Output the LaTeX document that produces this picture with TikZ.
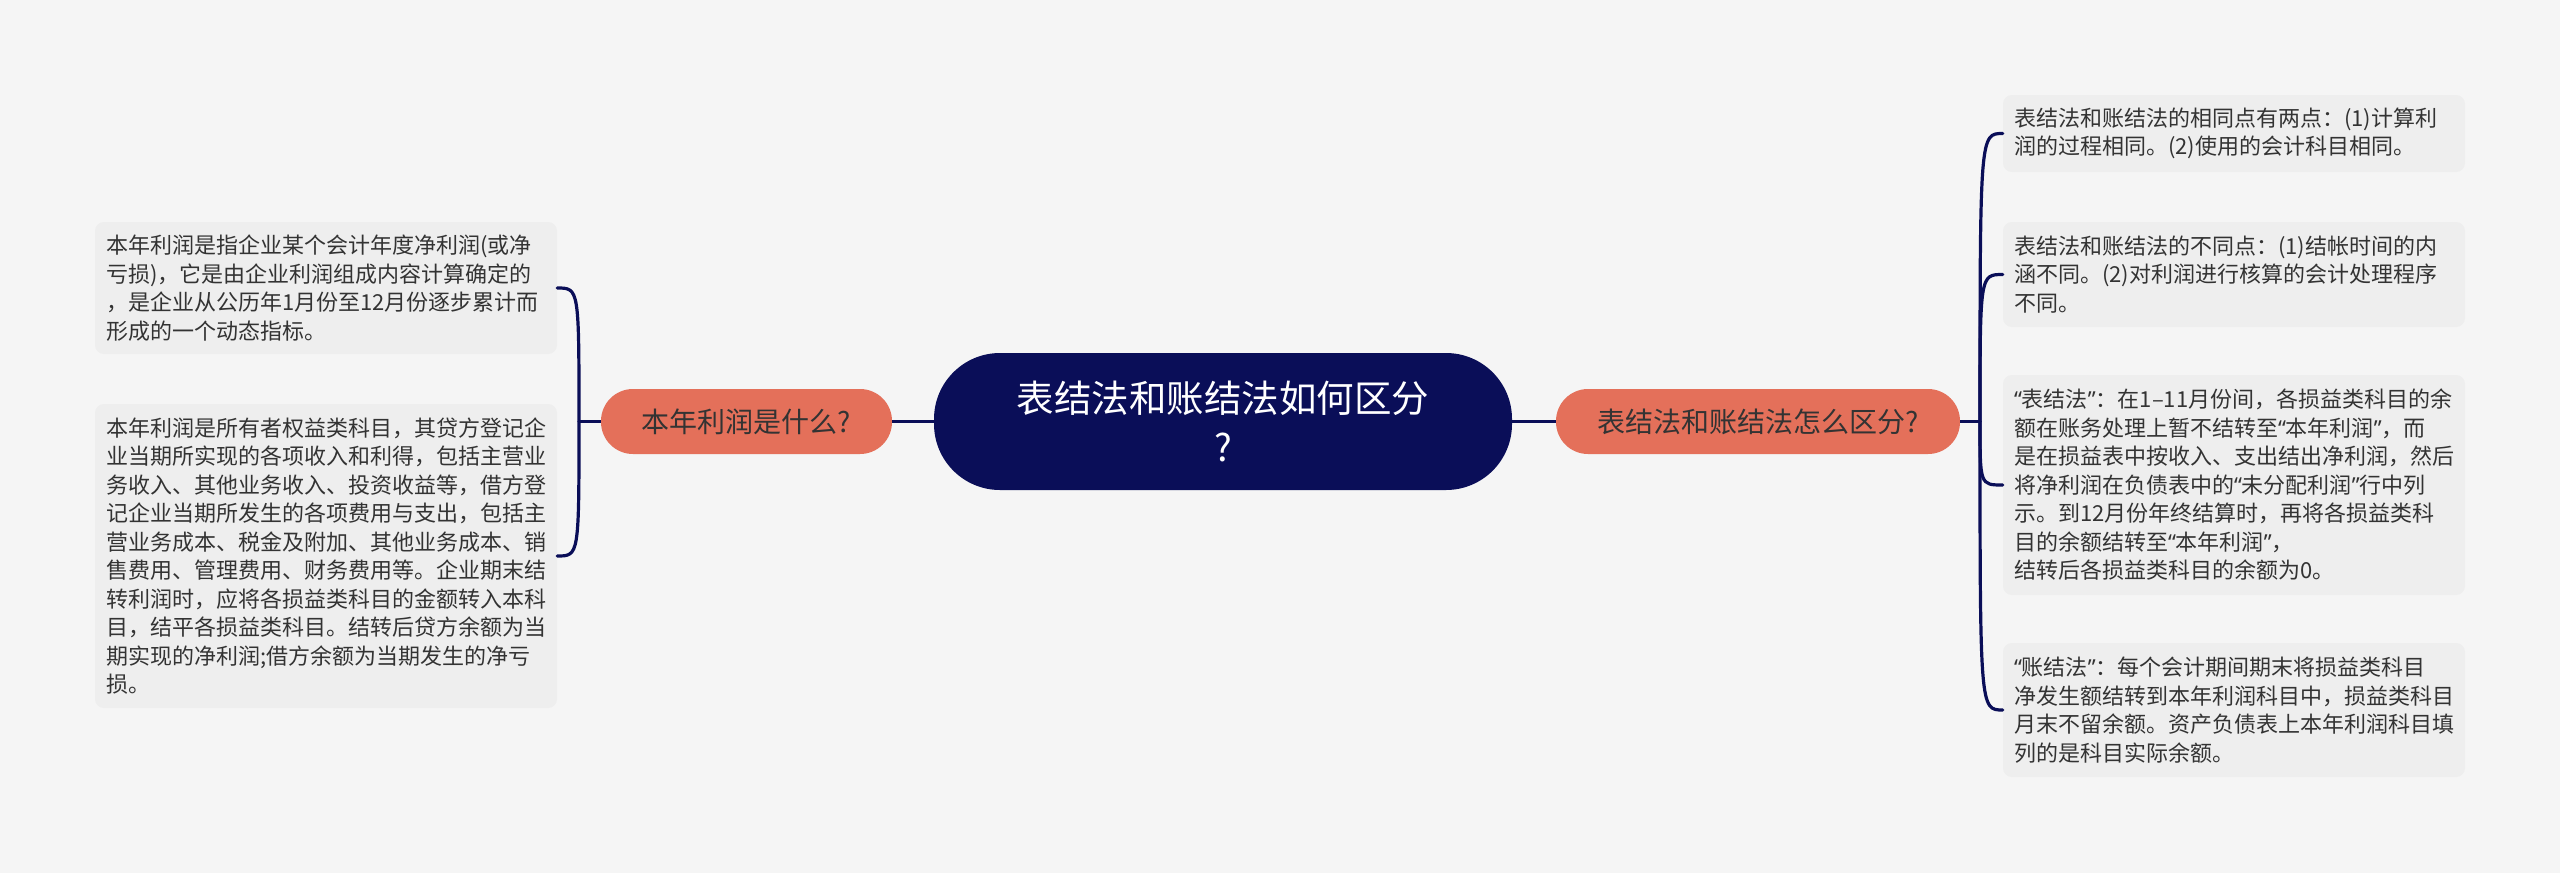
\documentclass[tikz,border=0pt]{standalone}
\usepackage{fontspec}
\newfontfamily\cjk{Noto Sans CJK SC}
\newfontfamily\latq{Noto Sans}
\newcommand{\oq}{{\latq “}}
\newcommand{\cq}{{\latq ”}}
\definecolor{bgc}{HTML}{F5F5F5}
\definecolor{navy}{HTML}{0A0E58}
\definecolor{salmon}{HTML}{E4705A}
\definecolor{leafc}{HTML}{EEEEEE}
\definecolor{txt}{HTML}{333333}
\begin{document}
\begin{tikzpicture}[x=1pt,y=-1pt,
  centernode/.style={rectangle, rounded corners=66pt, fill=navy, text=white,
    minimum width=578pt, minimum height=137pt, align=center, inner sep=0pt,
    font=\cjk\fontsize{37.5}{49}\selectfont},
  topic/.style={rectangle, rounded corners=32pt, fill=salmon, text=txt,
    minimum height=65pt, inner sep=0pt, font=\cjk\fontsize{28}{34}\selectfont},
  leaf/.style={rectangle, rounded corners=9pt, fill=leafc, text=txt,
    text width=440pt, inner xsep=11pt, inner ysep=0pt, align=left,
    font=\cjk\fontsize{22}{28.5}\selectfont},
  conn/.style={draw=navy, line width=3.2pt}]
\useasboundingbox[fill=bgc] (0,0) rectangle (2560,873);

\node[centernode] (c) at (1223,421.5) {表结法和账结法如何区分\\?};
\node[topic, minimum width=291pt] (l) at (746.5,421.5) {本年利润是什么?};
\node[topic, minimum width=404pt] (r) at (1758,421.5) {表结法和账结法怎么区分?};

\node[leaf, minimum height=132pt] (l1) at (326,288) {本年利润是指企业某个会计年度净利润(或净\\亏损)，它是由企业利润组成内容计算确定的\\，是企业从公历年1月份至12月份逐步累计而\\形成的一个动态指标。};
\node[leaf, minimum height=304pt] (l2) at (326,556) {本年利润是所有者权益类科目，其贷方登记企\\业当期所实现的各项收入和利得，包括主营业\\务收入、其他业务收入、投资收益等，借方登\\记企业当期所发生的各项费用与支出，包括主\\营业务成本、税金及附加、其他业务成本、销\\售费用、管理费用、财务费用等。企业期末结\\转利润时，应将各损益类科目的金额转入本科\\目，结平各损益类科目。结转后贷方余额为当\\期实现的净利润;借方余额为当期发生的净亏\\损。};

\node[leaf, minimum height=77pt] (r1) at (2234,133.5) {表结法和账结法的相同点有两点：(1)计算利\\润的过程相同。(2)使用的会计科目相同。};
\node[leaf, minimum height=105pt] (r2) at (2234,274.5) {表结法和账结法的不同点：(1)结帐时间的内\\涵不同。(2)对利润进行核算的会计处理程序\\不同。};
\node[leaf, minimum height=220pt] (r3) at (2234,485) {\mbox{\oq 表结法\cq：在1–11月份间，各损益类科目的余}\\额在账务处理上暂不结转至\oq 本年利润\cq，而\\是在损益表中按收入、支出结出净利润，然后\\将净利润在负债表中的\oq 未分配利润\cq 行中列\\示。到12月份年终结算时，再将各损益类科\\目的余额结转至\oq 本年利润\cq，\\结转后各损益类科目的余额为0。};
\node[leaf, minimum height=134pt] (r4) at (2234,710) {\oq 账结法\cq：每个会计期间期末将损益类科目\\净发生额结转到本年利润科目中，损益类科目\\月末不留余额。资产负债表上本年利润科目填\\列的是科目实际余额。};

\coordinate (lj) at (579,421.5);
\coordinate (rj) at (1980,421.5);

\draw[conn] (c.west) -- (l.east);
\draw[conn] (c.east) -- (r.west);
\draw[conn] (l.west) -- (lj);
\draw[conn] (r.east) -- (rj);
\foreach \n in {l1,l2}
  \draw[conn, line cap=round] (lj) .. controls (lj |- \n.east) and (lj |- \n.east) .. (\n.east);
\foreach \n in {r1,r2,r3,r4}
  \draw[conn, line cap=round] (rj) .. controls (rj |- \n.west) and (rj |- \n.west) .. (\n.west);
\end{tikzpicture}
\end{document}
